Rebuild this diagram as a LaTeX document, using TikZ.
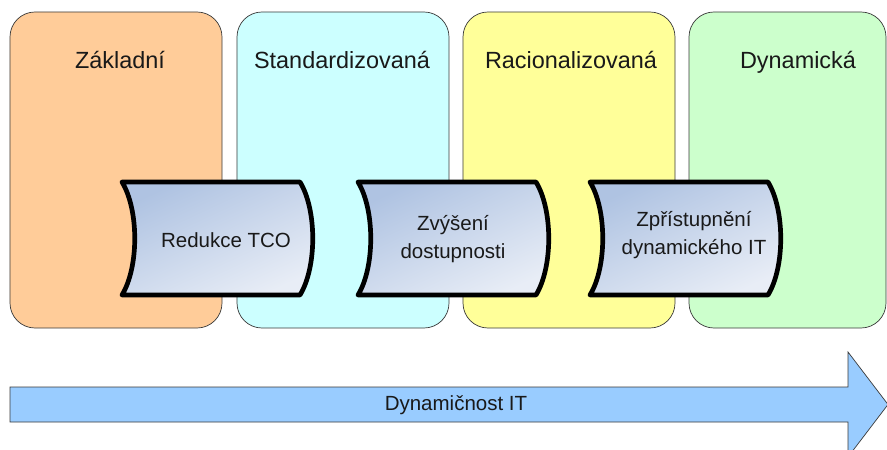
\documentclass[tikz,border=0pt]{standalone}
\usepackage{fontspec}
\setmainfont{Liberation Sans}
\usepackage{tikz}

\definecolor{zaklfill}{HTML}{FFCC99}
\definecolor{stdfill}{HTML}{CCFFFF}
\definecolor{racfill}{HTML}{FFFF99}
\definecolor{dynfill}{HTML}{CCFFCC}
\definecolor{flowfill}{HTML}{99CCFF}
\definecolor{tapetop}{HTML}{AFC3E2}
\definecolor{tapebot}{HTML}{E8EDF6}
\definecolor{edgegray}{HTML}{3A3A3A}

\begin{document}
\begin{tikzpicture}[x=0.03cm, y=-0.03cm,
    stage/.style={draw=edgegray, line width=0.6pt, rounded corners=0.75cm, minimum height=9.48cm, inner sep=0pt},
    title/.style={font=\fontsize{20}{24}\selectfont, text=black!90, anchor=base},
    tapebox/.style={draw=black, line width=4pt, line join=round, top color=tapetop, bottom color=tapebot, shading angle=25},
    tapetext/.style={font=\fontsize{17.5}{24}\selectfont, align=center, text=black!90},
    flow/.style={draw=edgegray, line width=0.6pt, fill=flowfill}
]
\useasboundingbox (0,0) rectangle (887,450);
%% ============================================================
%% stages (four coloured columns)
%% ============================================================
\node[stage, fill=zaklfill, minimum width=6.36cm] (zakl) at (116,170) {};
\node[stage, fill=stdfill,  minimum width=6.36cm] (std)  at (343,170) {};
\node[stage, fill=racfill,  minimum width=6.36cm] (rac)  at (569,170) {};
\node[stage, fill=dynfill,  minimum width=5.91cm] (dyn)  at (787.5,170) {};
\node[title] (zaklT) at (120,69) {Základní};
\node[title] (stdT)  at (342,69) {Standardizovaná};
\node[title] (racT)  at (571,69) {Racionalizovaná};
\node[title] (dynT)  at (798,69) {Dynamická};
%% ============================================================
%% steps between the stages
%% ============================================================
\begin{scope}[shift={(122,0)}]
\shadedraw[tapebox] (0,182) -- (178,182) .. controls (195,210) and (195,267) .. (178,295)
    -- (0,295) .. controls (17,267) and (17,210) .. (0,182) -- cycle;
\node[tapetext] (tco) at (104,240) {Redukce TCO};
\end{scope}
\begin{scope}[shift={(358,0)}]
\shadedraw[tapebox] (0,182) -- (178,182) .. controls (195,210) and (195,267) .. (178,295)
    -- (0,295) .. controls (17,267) and (17,210) .. (0,182) -- cycle;
\node[tapetext] (dost) at (95,239) {Zvýšení\\dostupnosti};
\end{scope}
\begin{scope}[shift={(590,0)}]
\shadedraw[tapebox] (0,182) -- (178,182) .. controls (195,210) and (195,267) .. (178,295)
    -- (0,295) .. controls (17,267) and (17,210) .. (0,182) -- cycle;
\node[tapetext] (zpr) at (104,235) {Zpřístupnění\\dynamického IT};
\end{scope}
%% ============================================================
%% big arrow at the bottom
%% ============================================================
\draw[flow] (10,387) -- (848,387) -- (848,352) -- (888,404.5) -- (848,457)
    -- (848,422) -- (10,422) -- cycle;
\node[tapetext] (dynIT) at (456,405) {Dynamičnost IT};
\end{tikzpicture}
\end{document}
